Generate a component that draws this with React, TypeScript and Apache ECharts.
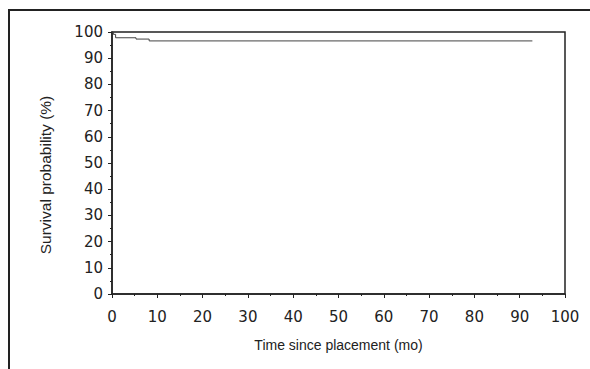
import React, { useEffect, useRef } from "react";
import * as echarts from "echarts";

const timeMonths = [0, 0.3, 0.8, 5.3, 8.2, 92.8];
const survivalPct = [100, 99.1, 97.8, 97.3, 96.6, 96.6];
const xTicks = [0, 10, 20, 30, 40, 50, 60, 70, 80, 90, 100];
const yTicks = [0, 10, 20, 30, 40, 50, 60, 70, 80, 90, 100];
const xTitle = "Time since placement (mo)";
const yTitle = "Survival probability (%)";

export default function App() {
  const ref = useRef<HTMLDivElement>(null);
  useEffect(() => {
    if (!ref.current) return;
    const chart = echarts.init(ref.current, undefined, { renderer: "svg" });
    const font = "DejaVu Sans";
    const titleFont = "Liberation Sans";
    const ink = "#222";
    chart.setOption({
      animation: false,
      backgroundColor: "#fff",
      grid: {
        left: 112,
        top: 32,
        right: 25,
        bottom: 75,
        show: true,
        borderColor: ink,
        borderWidth: 1.5,
        backgroundColor: "transparent",
      },
      xAxis: {
        type: "value",
        min: xTicks[0],
        max: xTicks[xTicks.length - 1],
        interval: 10,
        name: xTitle,
        nameLocation: "middle",
        nameGap: 44,
        nameTextStyle: { fontFamily: titleFont, fontSize: 14, color: ink },
        axisLine: { show: true, onZero: false, lineStyle: { color: ink, width: 1.5 } },
        axisTick: { show: true, length: 4, lineStyle: { color: ink, width: 1 } },
        minorTick: { show: true, splitNumber: 2, length: 2, lineStyle: { color: ink, width: 1 } },
        splitLine: { show: false },
        axisLabel: { fontFamily: font, fontSize: 15, color: ink, margin: 15 },
      },
      yAxis: {
        type: "value",
        min: yTicks[0],
        max: yTicks[yTicks.length - 1],
        interval: 10,
        axisLine: { show: true, onZero: false, lineStyle: { color: ink, width: 1.5 } },
        axisTick: { show: true, length: 4, lineStyle: { color: ink, width: 1 } },
        minorTick: { show: true, splitNumber: 2, length: 2, lineStyle: { color: ink, width: 1 } },
        splitLine: { show: false },
        axisLabel: { fontFamily: font, fontSize: 15, color: ink, margin: 9 },
      },
      series: [
        {
          type: "line",
          step: "end",
          data: timeMonths.map((t, i) => [t, survivalPct[i]]),
          showSymbol: false,
          lineStyle: { color: "#444", width: 1 },
        },
      ],
      graphic: [
        {
          type: "polyline",
          shape: { points: [[9, 369], [9, 10], [590, 10]] },
          style: { stroke: ink, lineWidth: 2, fill: "none" },
          silent: true,
        },
        {
          type: "text",
          x: 45,
          y: 175,
          rotation: Math.PI / 2,
          style: {
            text: yTitle,
            fontFamily: titleFont,
            fontSize: 15.5,
            fill: ink,
            align: "center",
            verticalAlign: "middle",
          },
          silent: true,
        },
      ],
    });
    return () => chart.dispose();
  }, []);
  return (
    <div
      ref={ref}
      style={{ position: "fixed", left: 0, top: 0, width: 590, height: 369 }}
    />
  );
}
